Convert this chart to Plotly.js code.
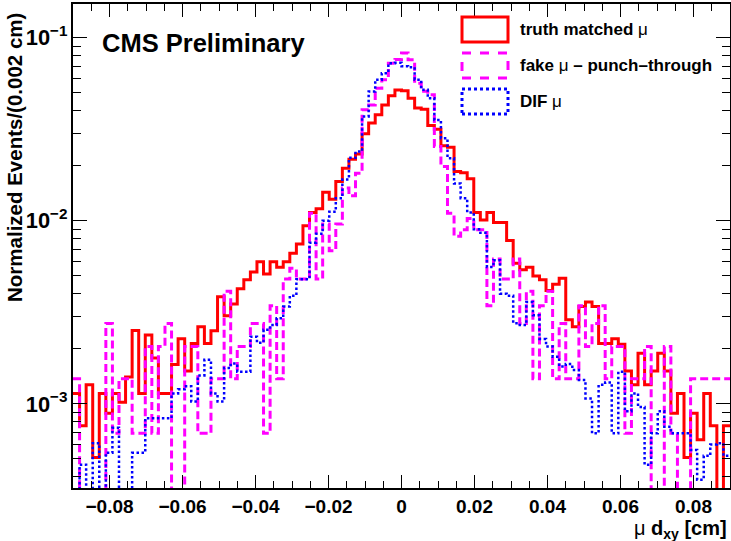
<!DOCTYPE html>
<html>
<head>
<meta charset="utf-8">
<script src="https://cdn.plot.ly/plotly-3.0.1.min.js"></script>
<style>html,body{margin:0;padding:0;background:#fff;}#chart{width:731px;height:541px;}</style>
</head>
<body>
<div id="chart"></div>
<script>
// Histogram definition: 100 bins over [-0.09, 0.09]
const xMin = -0.09, xMax = 0.09, nBins = 100;

// Bin contents (normalized); 0 = empty bin
const truthMatched = [1.14e-3,7.6e-4,1.27e-3,5.1e-4,1.14e-3,8.9e-4,1.14e-3,1.02e-3,1.40e-3,2.52e-3,
1.14e-3,2.38e-3,1.78e-3,1.14e-3,1.14e-3,1.64e-3,2.27e-3,1.51e-3,2.14e-3,2.64e-3,
2.14e-3,2.51e-3,3.85e-3,3.03e-3,3.51e-3,4.25e-3,4.76e-3,5.25e-3,5.97e-3,5.12e-3,
5.97e-3,5.58e-3,5.97e-3,6.65e-3,7.48e-3,9.39e-3,0.0111,0.01163,0.01435,0.0131,
0.0164,0.0194,0.0217,0.0232,0.0299,0.0342,0.0380,0.0430,0.0482,0.0518,
0.0513,0.0468,0.0413,0.0407,0.0332,0.0317,0.0257,0.0252,0.0186,0.0183,
0.0170,0.0111,0.0101,0.0111,0.0098,0.0098,0.0078,5.87e-3,5.40e-3,5.58e-3,
5.0e-3,4.76e-3,4.16e-3,4.51e-3,4.86e-3,2.88e-3,2.64e-3,3.40e-3,3.60e-3,3.40e-3,
2.14e-3,2.14e-3,2.27e-3,2.12e-3,1.51e-3,1.27e-3,1.89e-3,1.27e-3,1.51e-3,1.89e-3,
1.51e-3,8.9e-4,1.14e-3,5.1e-4,8.9e-4,6.36e-4,1.14e-3,7.6e-4,0,7.6e-4];

const fakePunch = [1.37e-3,0,0,0,0,2.75e-3,6.9e-4,1.37e-3,1.37e-3,6.9e-4,
6.9e-4,2.06e-3,6.9e-4,2.06e-3,2.75e-3,0,0,2.06e-3,2.06e-3,6.9e-4,
6.9e-4,1.37e-3,1.37e-3,4.12e-3,1.37e-3,2.06e-3,2.06e-3,2.75e-3,2.75e-3,6.9e-4,
3.44e-3,1.37e-3,4.81e-3,5.5e-3,4.81e-3,4.81e-3,0.0110,4.81e-3,9.62e-3,6.87e-3,
9.62e-3,0.0151,0.0137,0.0182,0.0404,0.0430,0.0530,0.0590,0.0727,0.0760,
0.0825,0.0758,0.0565,0.0510,0.0488,0.0255,0.0198,0.0110,8.24e-3,8.93e-3,
0.0103,8.93e-3,8.93e-3,3.44e-3,6.18e-3,4.81e-3,4.81e-3,6.18e-3,2.75e-3,4.12e-3,
1.37e-3,3.44e-3,4.12e-3,1.37e-3,2.75e-3,1.37e-3,1.37e-3,3.44e-3,2.06e-3,2.75e-3,
3.44e-3,1.37e-3,2.06e-3,2.06e-3,6.9e-4,1.37e-3,1.37e-3,2.06e-3,0,0,
2.06e-3,6.9e-4,0,0,1.37e-3,1.37e-3,1.37e-3,1.37e-3,1.37e-3,1.37e-3];

const difMu = [0,4.65e-4,0,6.1e-4,0,5.4e-4,7.4e-4,0,0,5.4e-4,
5.4e-4,8.35e-4,8.35e-4,8.35e-4,8.35e-4,1.14e-3,1.2e-3,1.25e-3,1.03e-3,1.43e-3,
1.74e-3,1.14e-3,1.03e-3,1.57e-3,1.66e-3,1.50e-3,1.50e-3,2.33e-3,2.16e-3,2.54e-3,
2.70e-3,2.94e-3,3.4e-3,3.9e-3,4.8e-3,4.8e-3,7.6e-3,8.5e-3,0.0100,0.0112,
0.0133,0.0168,0.0221,0.0239,0.0372,0.0509,0.0590,0.0641,0.0727,0.0730,
0.0700,0.0690,0.0590,0.0520,0.0468,0.0356,0.0283,0.0220,0.0160,0.0133,
0.0111,9.0e-3,8.6e-3,5.6e-3,6.1e-3,4.0e-3,3.9e-3,2.76e-3,2.7e-3,3.6e-3,
3.05e-3,2.26e-3,2.06e-3,1.81e-3,1.6e-3,1.65e-3,1.53e-3,1.35e-3,1.07e-3,6.9e-4,
1.27e-3,1.31e-3,6.9e-4,1.5e-3,9.1e-4,1.14e-3,9.6e-4,4.65e-4,6.9e-4,9.1e-4,
7.5e-4,6.9e-4,6.9e-4,6.9e-4,5.6e-4,3.85e-4,5.2e-4,6.0e-4,6.1e-4,5.2e-4];

const seriesNames = ['truth matched μ', 'fake μ – punch–through', 'DIF μ'];
const xTickVals = [-0.08,-0.06,-0.04,-0.02,0,0.02,0.04,0.06,0.08];
const xTickText = ['−0.08','−0.06','−0.04','−0.02','0','0.02','0.04','0.06','0.08'];

// bin edges from the histogram definition
const binW = (xMax - xMin) / nBins;
const edges = [];
for (let i = 0; i <= nBins; i++) edges.push(xMin + i * binW);
const FLOOR = 1e-6; // empty bins drawn down to the frame bottom
function stepY(vals){ const y = vals.map(v => v > 0 ? v : FLOOR); y.push(y[y.length-1]); return y; }

const FONT = 'Liberation Sans, Arial, Helvetica, sans-serif';
const traces = [
  {x: edges, y: stepY(truthMatched), mode:'lines', line:{shape:'hv', color:'#ff0000', width:3}, name: seriesNames[0], showlegend:false},
  {x: edges, y: stepY(fakePunch), mode:'lines', line:{shape:'hv', color:'#ff00ff', width:3, dash:'8px,4px'}, name: seriesNames[1], showlegend:false},
  {x: edges, y: stepY(difMu), mode:'lines', line:{shape:'hv', color:'#0000ff', width:2.5, dash:'2.5px,2.5px'}, name: seriesNames[2], showlegend:false}
];

// layout geometry (pixels)
const W = 731, H = 541, M = {l:73, r:1, t:4, b:53};
const PW = W - M.l - M.r, PH = H - M.t - M.b;
const px = x => (x - M.l) / PW;
const py = y => (H - M.b - y) / PH;

const legendColors = ['#ff0000', '#ff00ff', '#0000ff'];
const legendDash = ['solid', 'dash', 'dot'];
const legendRows = [[17,42],[53,78],[89,114]];
const shapes = [];
const annotations = [];
legendRows.forEach((r, i) => {
  shapes.push({type:'rect', xref:'paper', yref:'paper', x0:px(462), x1:px(508), y0:py(r[1]), y1:py(r[0]),
    line:{color:legendColors[i], width:3, dash:legendDash[i]}, fillcolor:'rgba(0,0,0,0)'});
  const parts = seriesNames[i].split('μ');
  const txt = parts.map(p => p.trim() ? '<b>' + p.trim() + '</b>' : '').join(' μ ').trim();
  annotations.push({xref:'paper', yref:'paper', x:px(518), y:py((r[0]+r[1])/2), xanchor:'left', yanchor:'middle',
    text: txt, showarrow:false, font:{family:FONT, size:17, color:'#000'}});
});
annotations.push({xref:'paper', yref:'paper', x:px(100), y:py(43), xanchor:'left', yanchor:'middle',
  text:'<b>CMS Preliminary</b>', showarrow:false, font:{family:FONT, size:25.5, color:'#000'}});
annotations.push({xref:'paper', yref:'paper', x:px(14), y:py(158), xanchor:'center', yanchor:'middle', textangle:-90,
  text:'<b>Normalized Events/(0.002 cm)</b>', showarrow:false, font:{family:FONT, size:20.5, color:'#000'}});
annotations.push({xref:'paper', yref:'paper', x:px(729), y:py(529), xanchor:'right', yanchor:'middle',
  text:'μ <b>d<sub>xy</sub> [cm]</b>', showarrow:false, font:{family:FONT, size:20, color:'#000'}});

const layout = {
  width: W, height: H, margin: M,
  paper_bgcolor:'#fff', plot_bgcolor:'#fff',
  showlegend:false,
  font:{family:FONT, color:'#000'},
  xaxis:{range:[xMin, xMax], tickvals:xTickVals, ticktext:xTickText, ticks:'inside', ticklen:13, tickwidth:1.2, tickcolor:'#000',
    showline:true, linecolor:'#000', linewidth:2, mirror:'ticks', showgrid:false, zeroline:false,
    tickfont:{family:FONT, size:19, weight:'bold', color:'#000'},
    minor:{ticks:'inside', ticklen:7, dtick:0.005, tick0:0, tickcolor:'#000', tickwidth:1, showgrid:false}},
  yaxis:{type:'log', range:[Math.log10(3.47e-4), Math.log10(0.153)], dtick:1, exponentformat:'power',
    ticks:'inside', ticklen:14, tickwidth:1.2, tickcolor:'#000',
    showline:true, linecolor:'#000', linewidth:2, mirror:'ticks', showgrid:false, zeroline:false,
    tickfont:{family:FONT, size:17.5, weight:'bold', color:'#000'},
    minor:{ticks:'inside', ticklen:8, dtick:'D1', tickcolor:'#000', tickwidth:1, showgrid:false}},
  shapes: shapes,
  annotations: annotations
};
Plotly.newPlot('chart', traces, layout, {displayModeBar:false, staticPlot:true});
</script>
</body>
</html>
